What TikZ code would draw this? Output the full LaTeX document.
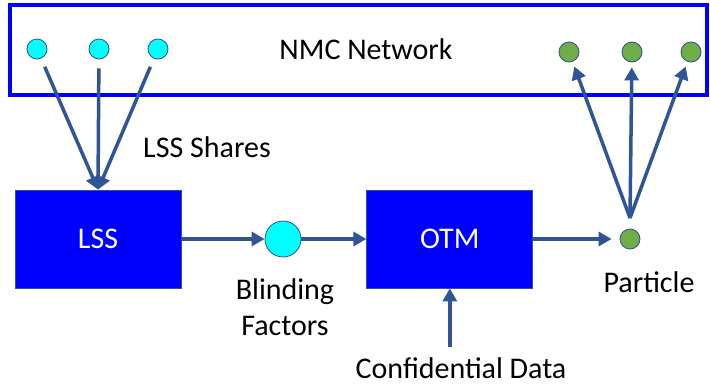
\documentclass[tikz,border=0pt]{standalone}
\usepackage{fontspec}
\setmainfont{Carlito}
\usetikzlibrary{arrows.meta,calc,positioning}
\definecolor{ArrowBlue}{HTML}{2F5597}
\definecolor{EdgeBlue}{HTML}{2F528F}
\definecolor{ShareCyan}{HTML}{00FFFF}
\definecolor{LeafGreen}{HTML}{70AD47}

\begin{document}
\begin{tikzpicture}[x=1pt,y=-1pt,
    font=\fontsize{30}{36}\selectfont,
    box/.style={draw=EdgeBlue,line width=0.8pt,fill=blue,text=white,
                minimum width=166pt,minimum height=98pt},
    dot/.style={circle,draw=EdgeBlue,line width=0.8pt,inner sep=0pt,minimum size=20pt},
    netbox/.style={draw=blue,line width=4pt,minimum width=697pt,minimum height=90pt},
    lbl/.style={inner sep=0pt,align=center},
    arr/.style={-{Triangle[length=13pt,width=14pt]},line width=3.5pt,ArrowBlue}]
    \useasboundingbox (0,0) rectangle (710,386);
    % network frame and its members
    \node[netbox] (nmc) at (358.5,50) {};
    \node[lbl] (nmclbl) at (366,49) {NMC Network};
    \node[dot,fill=ShareCyan] (s1) at (37,49) {};
    \node[dot,fill=ShareCyan] (s2) at (99,49) {};
    \node[dot,fill=ShareCyan] (s3) at (158,49) {};
    \node[dot,fill=LeafGreen] (g1) at (569,52) {};
    \node[dot,fill=LeafGreen] (g2) at (632,52) {};
    \node[dot,fill=LeafGreen] (g3) at (691,52) {};
    % main chain
    \node[box] (lss) at (98,239) {LSS};
    \node[box,right=185pt of lss] (otm) {OTM};
    \node[dot,fill=ShareCyan,minimum size=36pt] (blind) at (283,239) {};
    \node[dot,fill=LeafGreen] (part) at (630,239) {};
    \coordinate (fan) at (630,218);
    % labels
    \node[lbl,anchor=west] (shares) at (143,147) {LSS Shares};
    \node[lbl] (blindlbl) at (285,307) {Blinding\\Factors};
    \node[lbl] (partlbl) at (649,282) {Particle};
    \node[lbl] (conf) at (461,368) {Confidential Data};
    % connectors
    \foreach \s in {s1,s2,s3}
      \draw[arr,shorten <=9pt] (\s) -- (lss.north);
    \draw[arr] (lss) -- (blind);
    \draw[arr] (blind) -- (otm);
    \draw[arr,shorten >=8pt] (otm) -- (part);
    \draw[arr] (otm.south |- conf.north) ++(0,-10) -- (otm.south);
    \foreach \g in {g1,g2,g3}
      \draw[arr,shorten >=5pt] (fan) -- (\g);
\end{tikzpicture}
\end{document}
